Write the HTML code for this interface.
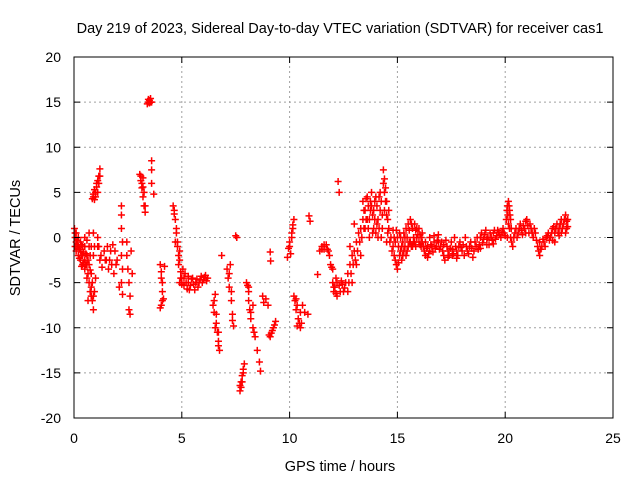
<!DOCTYPE html>
<html><head><meta charset="utf-8"><style>
body{margin:0;background:#fff;}
svg{display:block;font-family:"Liberation Sans",sans-serif;}
</style></head><body>
<svg id="chart" width="640" height="480" viewBox="0 0 640 480">
<rect width="640" height="480" fill="#fff"/>
<g id="grid"></g>
<g id="marks"></g>
<rect x="74" y="57" width="539" height="361" fill="none" stroke="#000" stroke-width="1"/>
<g id="axes"></g>
<text x="340" y="33" font-size="14.5" text-anchor="middle">Day 219 of 2023, Sidereal Day-to-day VTEC variation (SDTVAR) for receiver cas1</text>
<text x="340" y="471" font-size="14.5" text-anchor="middle">GPS time / hours</text>
<text x="20" y="238" font-size="14.5" text-anchor="middle" transform="rotate(-90 20 238)">SDTVAR / TECUs</text>
</svg>
<script>
const xTicks=[0,5,10,15,20,25];
const yTicks=[-20,-15,-10,-5,0,5,10,15,20];
const samples=[
[0.02,1],[0.05,0],[0.05,-1],[0.1,0.5],[0.1,-0.5],[0.1,-1.5],[0.2,0],[0.2,-1],[0.2,-2],[0.3,-0.5],[0.3,-1.5],[0.3,-2.5],[0.4,-1],[0.4,-2],[0.4,-3],[0.5,-1],[0.5,-2.5],[0.5,-3.5],[0.6,-2],[0.6,-3],[0.6,-4.5],[0.7,0.5],[0.7,-1],[0.7,-3],[0.7,-5],[0.8,-4],[0.8,-5.5],[0.8,-6.5],[0.85,-7],[0.9,-8],[0.9,0.5],[0.9,-2],[0.95,-6],[1.0,-4.5],[0.75,-3.6],[0.65,-7],[0.95,-1],
[0.85,4.3],[0.9,4.8],[0.95,5.3],[1.05,5.6],[1.1,6.3],[1.15,6.8],[1.2,7.6],[1.1,5],[1.0,4.5],
[1.1,0],[1.15,-1],[1.2,-2.5],[1.3,-3.3],[1.4,-1.5],[1.5,-2.5],[1.6,-3.5],[1.7,-1.5],[1.8,-0.8],[1.85,-4],[1.9,-1.5],[2.0,-2.5],[1.55,-1],
[2.2,3.5],[2.2,2.5],[2.2,1],[2.25,-0.5],[2.2,-2],[2.25,-3.5],[2.2,-5],[2.25,-6.3],[2.1,-5.5],
[2.45,-0.5],[2.45,-2],[2.5,-3.5],[2.55,-5],[2.6,-6.5],[2.6,-8.5],[2.55,-8],[2.7,-4],[2.65,-1.5],
[3.05,7],[3.1,6.3],[3.15,5.5],[3.2,6.6],[3.25,5],[3.25,3.5],[3.3,2.8],[3.2,4.5],
[3.4,14.8],[3.45,15],[3.55,15.4],[3.6,15],[3.5,15.2],[3.6,8.5],[3.6,7.5],[3.6,6],[3.7,4.8],
[4.0,-3],[4.05,-3.8],[4.1,-5],[4.1,-6],[4.05,-7.5],[4.0,-7.8],[4.2,-3.2],[4.15,-6.8],
[4.6,3.5],[4.65,3],[4.7,2],[4.75,0.5],[4.7,-0.5],[4.8,-1],[4.85,-2],[4.9,-1.5],[4.85,-3],[4.95,-3.8],[5.0,-4.5],[5.05,-3.5],[4.9,-5],[5.1,-4.5],[5.2,-5],[5.3,-4.3],[5.4,-5.3],[5.5,-4.5],[5.6,-5.8],[5.7,-4.6],[5.8,-5],[5.9,-4.3],[6.0,-4.7],[6.1,-4.2],[6.2,-4.5],[5.25,-5.7],[5.75,-5.5],
[6.45,-7.5],[6.5,-8.3],[6.55,-6.3],[6.6,-9.5],[6.65,-10.5],[6.7,-11.5],[6.75,-12.5],[6.55,-10],[6.85,-2],
[7.1,-3.5],[7.15,-4.5],[7.2,-5.5],[7.3,-7],[7.35,-8.5],[7.4,-9.8],[7.25,-3],[7.5,0.2],[7.55,0],
[7.7,-17],[7.75,-16],[7.8,-15.3],[7.85,-14.6],[7.9,-14],[7.75,-16.6],
[8.0,-5],[8.1,-5.5],[8.1,-7],[8.15,-8],[8.2,-9],[8.3,-10],[8.3,-7.5],[8.4,-11],[8.5,-12.5],
[8.6,-13.8],[8.65,-14.8],[8.75,-6.5],[8.8,-7.2],[8.9,-6.8],[9.0,-7.5],
[9.05,-10.8],[9.1,-11],[9.2,-10.3],[9.3,-9.7],[9.35,-9.3],[9.1,-1.6],[9.12,-2.6],
[9.9,-2.2],[9.95,-1.2],[10.0,-0.5],[10.1,0.5],[10.15,1],[10.2,2],[10.05,-1.8],
[10.2,-6.5],[10.3,-6.8],[10.3,-8],[10.4,-9],[10.5,-10],[10.55,-9.5],[10.7,-8.3],[10.6,-7.5],[10.85,-8.5],
[10.9,2.4],[10.95,1.8],[11.3,-4.1],
[11.4,-1.5],[11.5,-1],[11.6,-1.3],[11.7,-0.8],[11.8,-1.5],[11.9,-3],[12.0,-3.5],[11.85,-2],
[12.0,-5],[12.05,-6],[12.1,-5.5],[12.2,-6.5],[12.3,-5.3],[12.4,-4.8],[12.5,-6],[12.6,-5],[12.25,6.2],[12.3,5],
[12.7,-4],[12.8,-3],[12.9,-2],[13.0,-1.5],[13.1,-0.5],[13.2,0.5],[13.3,1],[13.4,2],[12.7,-6],[12.9,-5],[13.1,-3],[13.3,-2],[12.8,-1],[13.0,1.5],
[13.4,4],[13.5,3],[13.6,4.5],[13.7,2],[13.8,5],[13.9,3],[14.0,4.5],[14.1,2],[14.2,5],[13.5,1],[13.7,0],[13.9,1],[14.1,0],[14.3,1],[13.6,2],[14.0,0.5],[13.8,3.5],[14.2,3],
[14.35,7.5],[14.4,6.5],[14.45,5.5],[14.5,4],[14.4,3],[14.55,2],[14.6,1],[14.5,-0.5],[14.7,0],[14.6,3],
[14.8,-1],[14.9,-2.5],[15.0,-3.5],[15.1,-2],[14.9,-0.5],[15.0,0],[15.1,0.5],[15.2,-1],[15.2,-2.5],[14.8,0.8],
[15.3,-1.5],[15.3,0.5],[15.4,-2],[15.4,1],[15.5,-1],[15.5,1.5],[15.6,-0.5],[15.6,2],[15.7,-1],[15.7,1],[15.8,-0.5],[15.8,1.5],[15.9,0],[15.9,1],[16.0,-0.5],[16.0,1],[16.1,0],[16.1,-1],[15.45,0],[15.75,0],[16.05,0.3],
[16.2,-1],[16.3,-2],[16.4,-2.2],[16.5,-1.5],[16.6,-1],[16.7,-0.5],[16.8,-1],[16.9,-0.5],[17.0,-1],[16.3,-0.5],[16.5,0],[16.7,0.2],[16.9,0.3],[16.4,-1],
[17.1,-1.5],[17.2,-2.5],[17.3,-1],[17.4,-2],[17.5,-0.5],[17.6,-1.8],[17.7,-1],[17.8,-2],[17.9,-0.5],[18.0,-1.5],[18.1,-2],[18.2,-1],[18.3,-1.8],[18.4,-0.5],[18.5,-2.2],[17.25,-0.3],[17.65,0],[18.15,0],[18.45,-1.2],[17.45,-1.2],[17.95,-1.1],
[18.6,-0.5],[18.7,0],[18.8,-0.8],[18.9,0.5],[19.0,-0.2],[19.1,0.8],[19.2,0],[19.3,0.5],[19.4,-0.3],[19.5,0.8],[19.6,0.2],[19.7,0.6],[19.8,0],[19.9,1],[20.0,0.2],[18.75,-1.3],[19.25,-0.8],
[20.05,2],[20.1,3.5],[20.15,4],[20.2,3],[20.25,2],[20.2,1],[20.3,-0.5],[20.35,-1],[20.1,0],
[20.4,0],[20.5,1],[20.6,0.5],[20.7,1.5],[20.8,0.3],[20.9,1],[21.0,2],[21.1,0.5],[21.2,1],[21.3,0],[21.4,0.5],[20.95,1.8],
[21.5,-1],[21.6,-2],[21.7,-1],[21.6,-0.5],[21.8,-0.5],[21.9,0],[22.0,0.5],
[22.1,0],[22.2,1],[22.3,0.5],[22.4,1.5],[22.5,1],[22.6,2],[22.7,1.5],[22.8,2.5],[22.85,1],[22.9,2],[22.8,0.5],[22.3,-0.5],[22.6,0.5]
];
const extraSamples=[
[0.05,0.5],[0.15,-0.3],[0.15,-1],[0.25,-1.3],[0.25,-2.3],[0.35,-0.8],[0.35,-2],[0.45,-1.6],[0.45,-2.8],[0.55,-1.8],[0.55,-3],[0.65,-2.5],[0.65,-4],[0.75,-2],[0.75,-6],[0.85,-5],[0.9,-6.5],[0.8,-1],[0.6,-0.3],[0.5,0],[0.35,-3.2],
[0.9,4.5],[1.0,5],[1.05,6],[1.15,6],[1.2,6.8],[0.95,4.2],[1.1,-1],[1.25,-2],[1.45,-2.5],[1.65,-2.5],[1.75,-3],[1.95,-3],
[3.1,6.8],[3.15,6],[3.2,5.6],[3.3,3.5],[3.45,15.3],[3.5,14.9],[3.55,15],
[4.05,-4.5],[4.1,-7],[4.65,2.6],[4.75,1],[4.8,-0.5],[4.9,-2.5],[4.95,-4.5],[5.0,-5.2],[5.1,-5.3],[5.15,-4],[5.3,-5],[5.45,-4.6],[5.55,-5.2],[5.65,-5],[5.85,-4.7],[5.95,-5],[6.05,-4.4],[6.15,-4.8],[5.35,-5.8],
[6.5,-7],[6.6,-8.5],[6.7,-10.5],[6.7,-12],[7.2,-4],[7.3,-6],[7.35,-9.2],[7.8,-16],[7.7,-16.4],[7.85,-15],[8.05,-5.3],[8.1,-6],[8.2,-8.3],[8.35,-10.5],
[9.15,-10.6],[9.25,-10],[10.1,0],[10.15,1.4],[10.0,-1],[10.25,-7],[10.35,-7.5],[10.45,-9.5],[10.5,-8.3],[10.35,-9.8],
[11.5,-1.3],[11.6,-0.8],[11.75,-1.3],[11.95,-3.3],[12.05,-5.5],[12.15,-6.2],[12.2,-5],[12.35,-6],[12.45,-5.2],[12.55,-5.6],[12.15,-4.5],
[12.75,-5],[12.85,-4],[12.95,-3],[13.05,-2.5],[13.15,-1.5],[13.25,-0.5],[13.35,0],[13.45,1],[13.55,2],[13.65,3.5],[13.75,4],[13.85,2.5],[13.95,4],[14.05,3.5],[14.15,4.5],[14.25,4],[14.3,2.5],[13.45,3],[13.65,1],[13.85,0.5],[14.05,1.5],[14.25,0],[13.55,4.3],[13.75,3],[13.95,2],[14.15,1],
[14.35,6],[14.4,5],[14.45,4],[14.5,2.5],[14.55,0.5],[14.65,-0.5],[14.75,-1.5],[14.85,-2],[14.95,-3],[15.05,-2.8],[15.15,-1.5],[14.85,0],[14.95,0.8],[15.05,-1],[15.15,0],[15.25,-0.5],[15.25,-2],[15.35,-1],[15.35,0],
[15.45,-1.5],[15.55,-0.5],[15.55,0.8],[15.65,-1],[15.65,1.5],[15.75,-0.5],[15.85,0.8],[15.85,-1],[15.95,0.3],[16.05,-0.8],[16.15,-0.5],[16.15,0.5],
[16.25,-1.5],[16.35,-1.2],[16.45,-1.8],[16.55,-0.8],[16.65,-1.6],[16.75,-1.2],[16.85,-0.3],[16.95,-1.3],[17.05,-0.5],[17.15,-2],[17.35,-1.5],[17.55,-1.3],[17.75,-1.5],[17.85,-1],[18.05,-0.8],[18.25,-1.5],[18.35,-1],[18.55,-1.5],[17.15,-0.8],[17.35,-2.2],[17.55,-2],[17.75,-2.3],
[18.65,-1],[18.85,0],[18.95,-0.6],[19.05,0.3],[19.15,-0.2],[19.35,0],[19.45,0.5],[19.55,-0.2],[19.65,0.8],[19.75,0.3],[19.85,0.6],[19.95,0.5],[18.85,-1.2],[19.15,-0.8],[19.45,-0.7],
[20.08,3],[20.12,2.5],[20.18,3.5],[20.22,2.5],[20.28,1],[20.15,1.5],[20.25,0],[20.45,0.5],[20.55,0],[20.65,1],[20.75,0.8],[20.85,1.3],[20.95,0.5],[21.05,1.3],[21.15,1.5],[21.25,0.5],[21.35,1],[21.45,-0.3],
[21.55,-1.5],[21.65,-1.3],[21.75,-0.2],[21.85,-1],[21.95,0.2],[22.05,-0.3],[22.15,0.5],[22.25,1.2],[22.35,1],[22.45,0.5],[22.55,1.5],[22.65,1],[22.75,2],[22.85,1.8],[22.9,1.2],[22.2,-0.3],[22.5,0.2]
];
const ns="http://www.w3.org/2000/svg";
const X0=74,X1=613,Y0=418,Y1=57;
function xs(h){return X0+(h-0)/(25-0)*(X1-X0);}
function ys(v){return Y0-(v+20)/40*(Y0-Y1);}
const grid=document.getElementById('grid'),axes=document.getElementById('axes'),marks=document.getElementById('marks');
function mk(tag,attrs,parent){const e=document.createElementNS(ns,tag);for(const k in attrs)e.setAttribute(k,attrs[k]);parent.appendChild(e);return e;}
xTicks.forEach(t=>{const x=xs(t);
 if(t>0&&t<25){const g=mk('line',{x1:x,x2:x,y1:Y0,y2:Y1,stroke:'#a0a0a0','stroke-dasharray':'2,3'},grid);
 
 }
 const tk=mk('path',{d:`M${x},${Y0}v-6M${x},${Y1}v6`,stroke:'#000'},axes);
 
 
 const l=mk('text',{x:x,y:443,'font-size':14,'text-anchor':'middle'},axes);l.textContent=t;
 
 
});
yTicks.forEach(t=>{const y=ys(t);
 if(t>-20&&t<20){const g=mk('line',{x1:X0,x2:X1,y1:y,y2:y,stroke:'#a0a0a0','stroke-dasharray':'2,3'},grid);
 
 }
 const tk=mk('path',{d:`M${X0},${y}h6M${X1},${y}h-6`,stroke:'#000'},axes);
 
 
 const l=mk('text',{x:61,y:y+5,'font-size':14,'text-anchor':'end'},axes);l.textContent=t;
 
 
});
samples.concat(extraSamples).forEach(p=>{const x=xs(p[0]),y=ys(p[1]);
 const m=mk('path',{d:`M${x-3.5},${y}h7M${x},${y-3.5}v7`,stroke:'#ff0000','stroke-width':1.5},marks);
 
 
});
</script>
</body></html>
